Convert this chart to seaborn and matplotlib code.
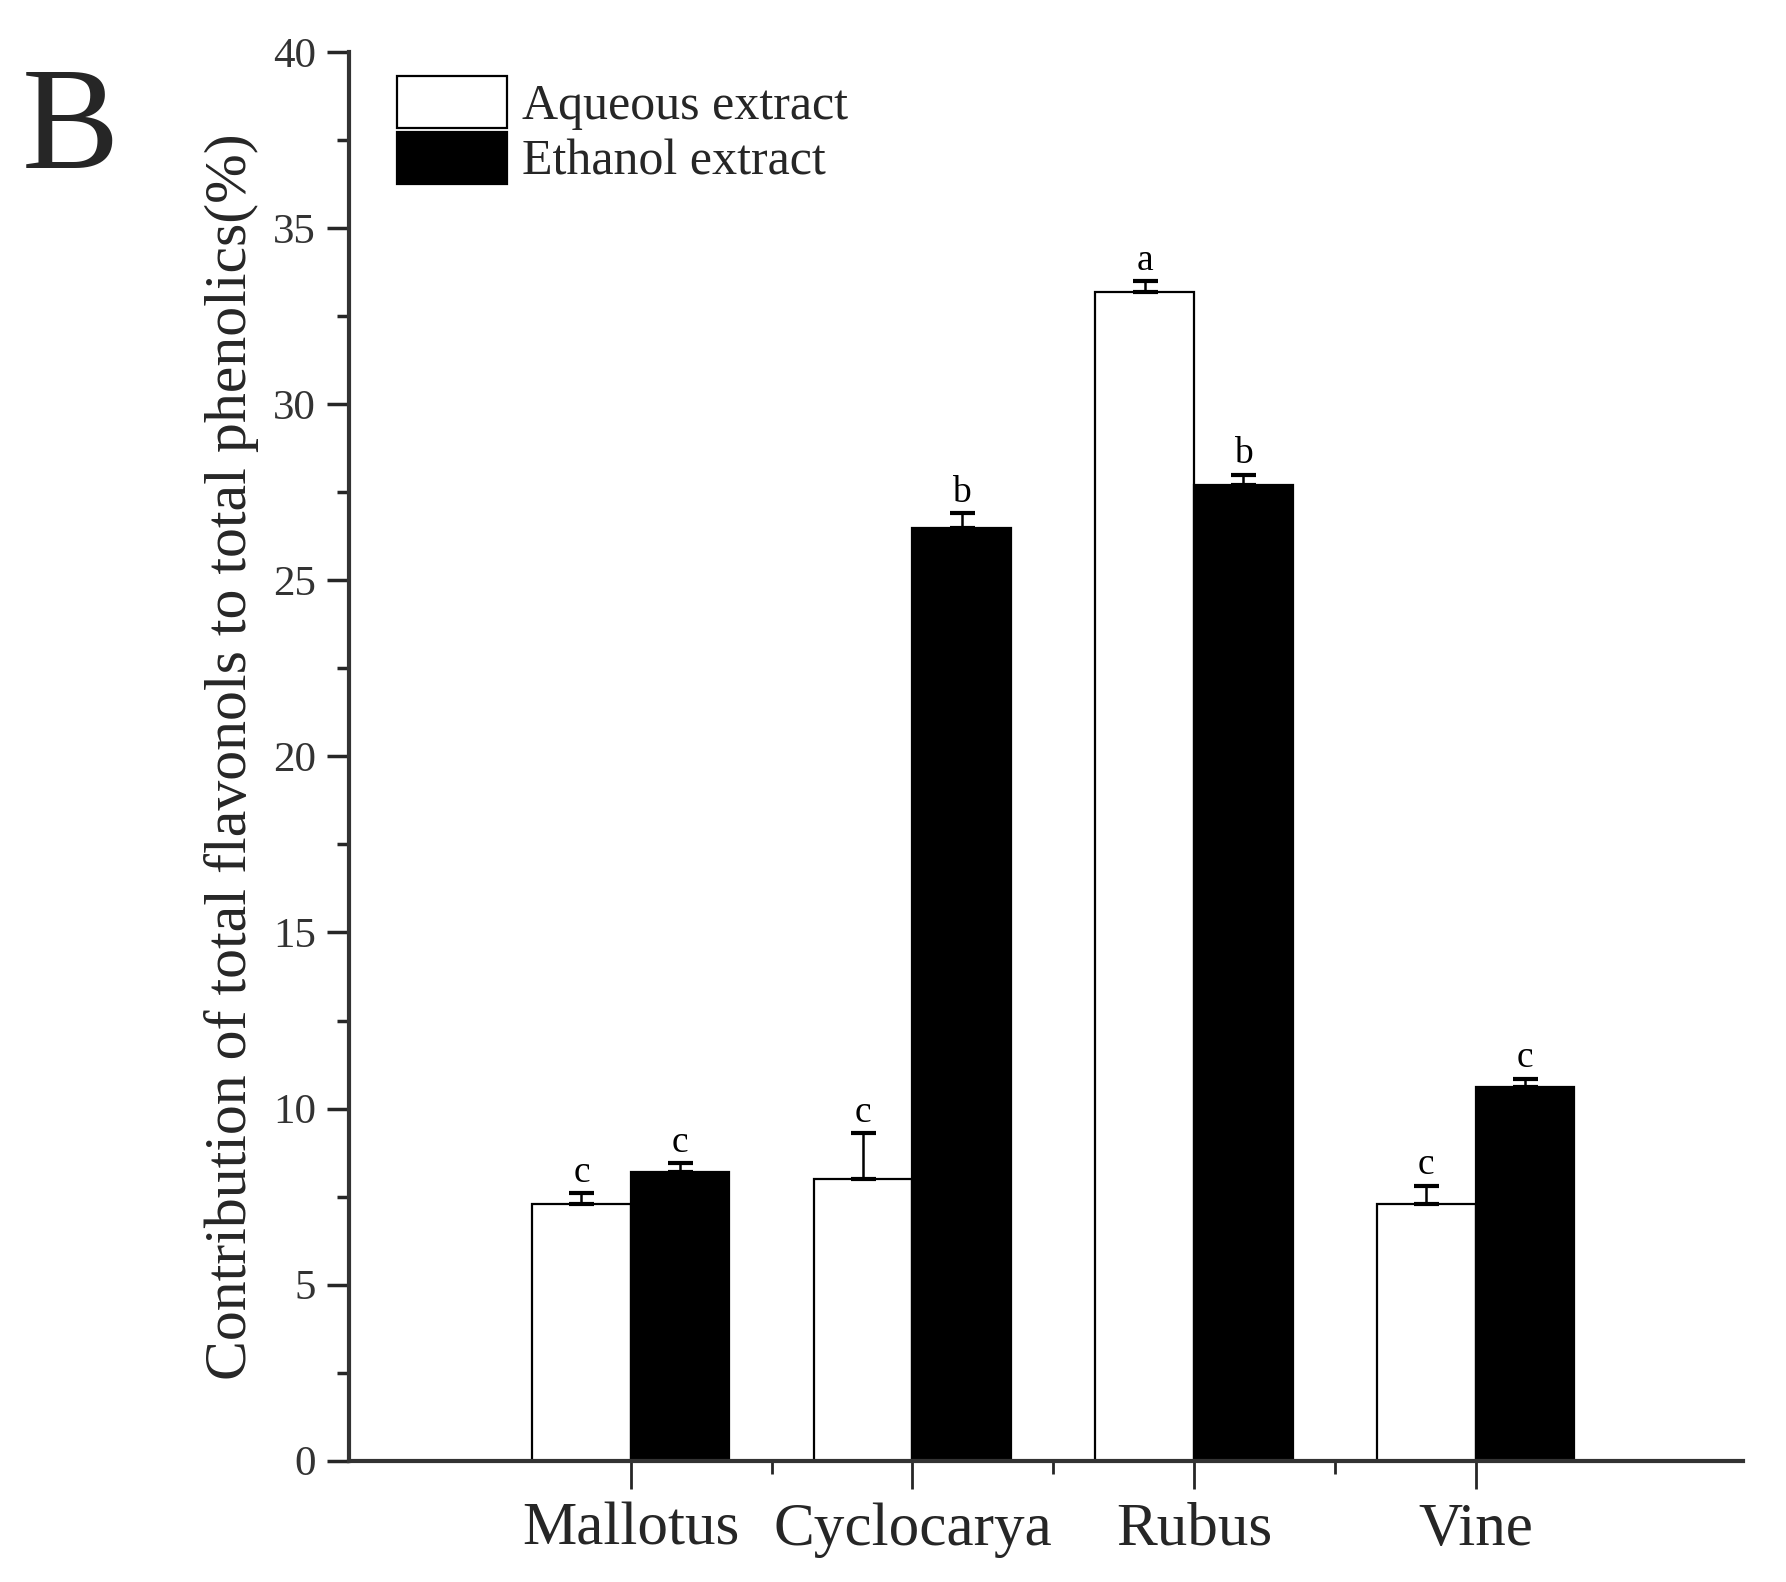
import numpy as np
import pandas as pd
import matplotlib.pyplot as plt
import seaborn as sns
from matplotlib.ticker import MultipleLocator, FixedLocator

species = ['Mallotus', 'Cyclocarya', 'Rubus', 'Vine']
extracts = ['Aqueous extract', 'Ethanol extract']
aqueous = [7.3, 8.0, 33.2, 7.3]
aqueous_err = [0.3, 1.3, 0.3, 0.5]
ethanol = [8.2, 26.5, 27.7, 10.6]
ethanol_err = [0.25, 0.4, 0.3, 0.25]
aqueous_sig = ['c', 'c', 'a', 'c']
ethanol_sig = ['c', 'b', 'b', 'c']

sns.set_style('ticks')
plt.rcParams['font.family'] = ['Liberation Serif', 'DejaVu Serif']

df = pd.DataFrame({
    'species': species * 2,
    'extract': [extracts[0]] * 4 + [extracts[1]] * 4,
    'value': aqueous + ethanol,
})

fig = plt.figure(figsize=(17.86, 15.82), dpi=100)
ax = fig.add_axes([0.1955, 0.0767, 0.7805, 0.8903])

sns.barplot(data=df, x='species', y='value', hue='extract', hue_order=extracts,
            palette={extracts[0]: 'white', extracts[1]: 'black'},
            edgecolor='black', linewidth=1.6, width=0.7, errorbar=None, ax=ax)

errs = [aqueous_err, ethanol_err]
sigs = [aqueous_sig, ethanol_sig]
vals = [aqueous, ethanol]
bar_groups = list(ax.containers)
for k, cont in enumerate(bar_groups):
    xs = [p.get_x() + p.get_width() / 2 for p in cont]
    ax.errorbar(xs, vals[k], yerr=[np.zeros(4), errs[k]], fmt='none',
                ecolor='black', elinewidth=1.8, capsize=9, capthick=3)
    for x, v, e, s in zip(xs, vals[k], errs[k], sigs[k]):
        ax.text(x, v + e + 0.1, s, ha='center', va='bottom', fontsize=27, color='black')

ax.set_ylim(0, 40)
ax.set_xlim(-1, 3.95)
ax.yaxis.set_major_locator(MultipleLocator(5))
ax.yaxis.set_minor_locator(MultipleLocator(2.5))
ax.xaxis.set_minor_locator(FixedLocator([0.5, 1.5, 2.5]))
ax.tick_params(axis='y', which='major', length=16, width=2.5, labelsize=31,
               labelcolor='#333333', pad=8)
ax.tick_params(axis='y', which='minor', length=9, width=2.5)
ax.tick_params(axis='x', which='major', length=20, width=2, labelsize=44, pad=10)
ax.tick_params(axis='x', which='minor', length=9, width=2)
for sp in ['left', 'bottom']:
    ax.spines[sp].set_linewidth(3)
    ax.spines[sp].set_color('#333333')
sns.despine(ax=ax)

ax.set_xlabel('')
ax.set_ylabel('Contribution of total flavonols to total phenolics(%)', fontsize=43, labelpad=10)

ax.legend(loc='upper left', bbox_to_anchor=(0.02, 0.997), frameon=False, fontsize=36,
          handlelength=2.2, handleheight=1.2, handletextpad=0.3, labelspacing=0.05,
          borderaxespad=0)

fig.text(0.012, 0.958, 'B', fontsize=105, ha='left', va='top')

fig.savefig('out.png', dpi=100)
